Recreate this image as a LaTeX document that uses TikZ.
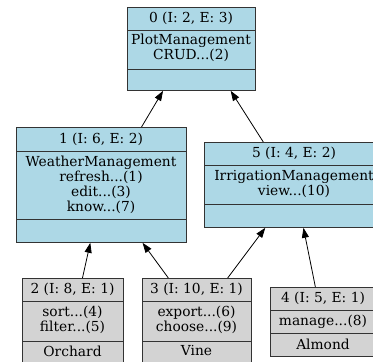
\documentclass[tikz,border=0pt]{standalone}
\usepackage{fontspec}
\setmainfont{DejaVu Serif}
\usetikzlibrary{arrows.meta,calc}

\definecolor{recblue}{HTML}{ADD8E6}
\definecolor{recgray}{HTML}{D3D3D3}

\begin{document}
\begin{tikzpicture}[x=1pt,y=-1pt,
  >={Triangle[length=10pt,width=7pt]},
  rec/.style={draw=black!80,line width=0.8pt,inner sep=0pt,anchor=north west},
  sepline/.style={draw=black!80,line width=0.8pt},
  lbl/.style={inner sep=0pt,align=center,font=\fontsize{13.8}{15}\selectfont},
  link/.style={->,line width=0.8pt}]

\useasboundingbox (0,0) rectangle (373,362);

%% Record boxes: name/left/top/right/bottom/first rule/second rule/fill
\foreach \n/\xa/\ya/\xb/\yb/\sa/\sb/\c in {
  n0/127/7/255/90/30/69/recblue,
  n1/16/127/186/242/151/219/recblue,
  n5/204/142/384/227/165/204/recblue,
  n2/22/278/123/364/301/341/recgray,
  n3/142/278/251/364/301/341/recgray,
  n4/270/287/376/356/310/333/recgray}{
  \pgfmathsetmacro{\w}{\xb-\xa}
  \pgfmathsetmacro{\h}{\yb-\ya}
  \node[rec,fill=\c,minimum width=\w pt,minimum height=\h pt] (\n) at (\xa,\ya) {};
  \draw[sepline] (\xa,\sa) -- (\xb,\sa) (\xa,\sb) -- (\xb,\sb);
}

%% Titles
\node[lbl] (t0) at (191,18.5) {0 (I: 2, E: 3)};
\node[lbl] (t1) at (101,139) {1 (I: 6, E: 2)};
\node[lbl] (t5) at (294,153.5) {5 (I: 4, E: 2)};
\node[lbl] (t2) at (72.5,289.5) {2 (I: 8, E: 1)};
\node[lbl] (t3) at (196.5,289.5) {3 (I: 10, E: 1)};
\node[lbl] (t4) at (323,298.5) {4 (I: 5, E: 1)};

%% Bodies
\node[lbl] (b0) at (191,48) {PlotManagement\\CRUD...(2)};
\node[lbl] (b1) at (101,184.5) {WeatherManagement\\refresh...(1)\\edit...(3)\\know...(7)};
\node[lbl] (b5) at (294,184) {IrrigationManagement\\view...(10)};
\node[lbl] (b2) at (72.5,320) {sort...(4)\\filter...(5)};
\node[lbl] (b3) at (196.5,320) {export...(6)\\choose...(9)};
\node[lbl] (b4) at (323,321.5) {manage...(8)};

%% Footers
\node[lbl] (f2) at (72.5,351) {Orchard};
\node[lbl] (f3) at (196.5,351) {Vine};
\node[lbl] (f4) at (323,344.5) {Almond};

%% Links
\draw[link] ($(n1.north west)!0.735!(n1.north east)$) -- ($(n0.south west)!0.28!(n0.south east)$);
\draw[link] ($(n5.north west)!0.328!(n5.north east)$) -- ($(n0.south west)!0.805!(n0.south east)$);
\draw[link] ($(n2.north west)!0.594!(n2.north east)$) -- ($(n1.south west)!0.435!(n1.south east)$);
\draw[link] ($(n3.north west)!0.24!(n3.north east)$) -- ($(n1.south west)!0.741!(n1.south east)$);
\draw[link] ($(n3.north west)!0.78!(n3.north east)$) -- ($(n5.south west)!0.339!(n5.south east)$);
\draw[link] ($(n4.north west)!0.425!(n4.north east)$) -- ($(n5.south west)!0.55!(n5.south east)$);

\end{tikzpicture}
\end{document}
